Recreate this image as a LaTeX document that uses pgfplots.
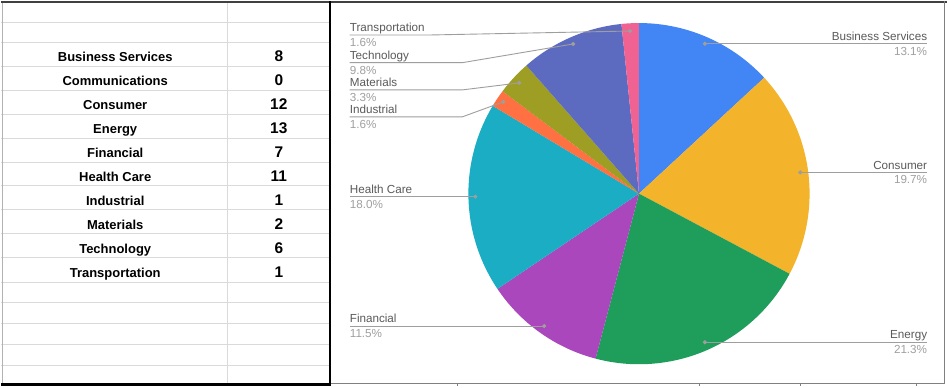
\documentclass[border=0pt]{standalone}
\usepackage{pgfplots}
\pgfplotsset{compat=1.18}
\usepackage{fontspec}
\setmainfont{Liberation Sans}
\definecolor{cBlue}{HTML}{4285F4}
\definecolor{cYellow}{HTML}{F3B32A}
\definecolor{cGreen}{HTML}{1F9E5B}
\definecolor{cPurple}{HTML}{AB47BC}
\definecolor{cTeal}{HTML}{1AADC3}
\definecolor{cOrange}{HTML}{FF7043}
\definecolor{cOlive}{HTML}{9E9D24}
\definecolor{cIndigo}{HTML}{5C6BC0}
\definecolor{cPink}{HTML}{F06292}
\definecolor{gridc}{HTML}{DADADA}
\definecolor{leadc}{HTML}{9E9E9E}
\definecolor{namec}{HTML}{5A5A5A}
\definecolor{pctc}{HTML}{A0A0A0}
% total of all counts = 61
\newcommand{\pieslice}[3]{%
  \pgfmathsetmacro\angA{90-(#1/61)*360}%
  \pgfmathsetmacro\angB{90-((#1+#2)/61)*360}%
  \edef\doslice{\noexpand\addplot[fill=#3, draw=none, domain=\angB:\angA, samples=100] ({639+171*cos(x)},{193-171*sin(x)}) -- (axis cs:639,193) -- cycle;}%
  \doslice
}
\newcommand{\tname}[2]{\node[anchor=base, font=\fontsize{13bp}{15bp}\selectfont\bfseries] at (axis cs:114,#1) {#2};}
\newcommand{\tval}[2]{\node[anchor=base, font=\fontsize{15.5bp}{17bp}\selectfont\bfseries] at (axis cs:278,#1) {#2};}
\newcommand{\hgrid}[1]{\draw[gridc, line width=1bp] (axis cs:0,#1) -- (axis cs:328,#1);}
\newcommand{\btick}[1]{\draw[gray, line width=1bp] (axis cs:#1,383) -- (axis cs:#1,386);}
\newcommand{\leftlab}[3]{%
  \node[anchor=base west, text=namec, inner sep=0pt, font=\fontsize{11.7bp}{14bp}\selectfont] at (axis cs:349,#1-3.4) {#2};
  \node[anchor=base west, text=pctc, inner sep=0pt, font=\fontsize{11.7bp}{14bp}\selectfont] at (axis cs:349,#1+11.6) {#3};}
\newcommand{\rightlab}[3]{%
  \node[anchor=base east, text=namec, inner sep=0pt, font=\fontsize{11.7bp}{14bp}\selectfont] at (axis cs:928,#1-3.4) {#2};
  \node[anchor=base east, text=pctc, inner sep=0pt, font=\fontsize{11.7bp}{14bp}\selectfont] at (axis cs:928,#1+11.6) {#3};}
\begin{document}
\begin{tikzpicture}
\path[fill=white] (0,0) rectangle (948bp,386bp);
\begin{axis}[
  at={(0,0)}, anchor=south west,
  scale only axis, width=948bp, height=386bp,
  xmin=0, xmax=948, ymin=0, ymax=386, y dir=reverse,
  enlargelimits=false, hide axis, clip=false,
  leader/.style={draw=leadc, line width=0.9bp, mark=*, mark indices={1}, mark size=1.6bp, mark options={fill=leadc, draw=leadc}},
]
% ---- spreadsheet grid ----
\hgrid{21}\hgrid{42}\hgrid{65.7}\hgrid{89.3}\hgrid{113.3}\hgrid{137.3}\hgrid{161.3}\hgrid{185.3}
\hgrid{209.3}\hgrid{233.3}\hgrid{257.3}\hgrid{281.7}\hgrid{302.3}\hgrid{323.3}\hgrid{344.3}\hgrid{365}
\draw[gridc, line width=1bp] (axis cs:227,0) -- (axis cs:227,383);
\draw[gray!60, line width=0.8bp] (axis cs:0.5,0) -- (axis cs:0.5,386);
% ---- table ----
\tname{60.9}{Business Services}\tval{60.9}{8}
\tname{84.5}{Communications}\tval{84.5}{0}
\tname{108.5}{Consumer}\tval{108.5}{12}
\tname{132.5}{Energy}\tval{132.5}{13}
\tname{156.5}{Financial}\tval{156.5}{7}
\tname{180.5}{Health Care}\tval{180.5}{11}
\tname{204.5}{Industrial}\tval{204.5}{1}
\tname{228.5}{Materials}\tval{228.5}{2}
\tname{252.5}{Technology}\tval{252.5}{6}
\tname{276.9}{Transportation}\tval{276.9}{1}
% ---- pie (counts: 8,0,12,13,7,11,1,2,6,1) ----
\pieslice{0}{8}{cBlue}
\pieslice{8}{12}{cYellow}
\pieslice{20}{13}{cGreen}
\pieslice{33}{7}{cPurple}
\pieslice{40}{11}{cTeal}
\pieslice{51}{1}{cOrange}
\pieslice{52}{2}{cOlive}
\pieslice{54}{6}{cIndigo}
\pieslice{60}{1}{cPink}
% ---- leader lines ----
\addplot[leader] coordinates {(705,42.7) (928,42.7)};
\addplot[leader] coordinates {(800.7,171.7) (928,171.7)};
\addplot[leader] coordinates {(705,342) (928,342)};
\addplot[leader] coordinates {(544,325.7) (349,325.7)};
\addplot[leader] coordinates {(475,196) (349,196)};
\addplot[leader] coordinates {(503,101) (462,116) (349,116)};
\addplot[leader] coordinates {(519,82) (462,89) (349,89)};
\addplot[leader] coordinates {(573,43) (462,61.7) (349,61.7)};
\addplot[leader] coordinates {(630,30) (428,34) (349,34)};
% ---- labels ----
\rightlab{42.7}{Business Services}{13.1\%}
\rightlab{171.7}{Consumer}{19.7\%}
\rightlab{342}{Energy}{21.3\%}
\leftlab{325.7}{Financial}{11.5\%}
\leftlab{196}{Health Care}{18.0\%}
\leftlab{116}{Industrial}{1.6\%}
\leftlab{89}{Materials}{3.3\%}
\leftlab{61.7}{Technology}{9.8\%}
\leftlab{34}{Transportation}{1.6\%}
% ---- frame ----
\draw[black!75, line width=1.5bp] (axis cs:0,0.75) -- (axis cs:948,0.75);
\draw[gray, line width=1bp] (axis cs:330,383.5) -- (axis cs:946,383.5);
\btick{457}\btick{700}\btick{801}\btick{917}
\draw[gray, line width=1bp] (axis cs:945.5,0) -- (axis cs:945.5,384);
\draw[black, line width=2.2bp] (axis cs:329,0) -- (axis cs:329,386);
\draw[black, line width=3bp] (axis cs:0,384.5) -- (axis cs:330,384.5);
\end{axis}
\end{tikzpicture}
\end{document}
